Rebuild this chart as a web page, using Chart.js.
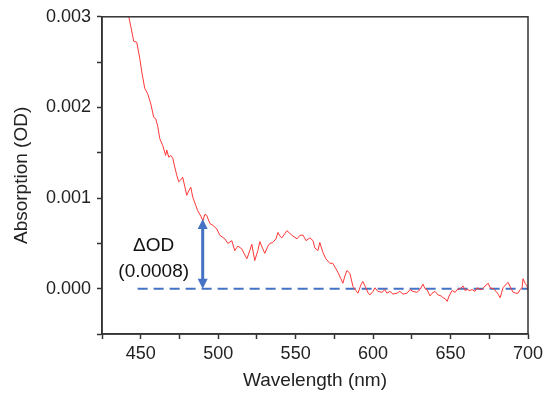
<!DOCTYPE html>
<html>
<head>
<meta charset="utf-8">
<script src="https://cdn.jsdelivr.net/npm/chart.js@4"></script>
<style>
html,body{margin:0;padding:0;background:#fff;}
#wrap{width:544px;height:397px;}
</style>
</head>
<body>
<div id="wrap"><canvas id="c" width="544" height="397"></canvas></div>
<script>
// ---- data ----
const wavelengths = [440,442.2,443.5,444.8,445.5,447.4,449.4,450.6,452.6,454.5,456.5,458.4,459.7,461.0,462.3,464.2,466.1,466.8,468.1,469.4,470.7,472.0,473.3,474.5,475.8,477.1,478.4,479.7,481.0,482.3,483.6,485.5,486.8,488.8,490.1,491.4,492.6,494.6,496.5,499.1,501.0,504.3,506.2,508.8,510.7,512.7,515.2,518.5,520.4,521.7,523.6,525.6,526.9,528.8,530.1,532.1,533.4,535.3,537.3,538.6,539.9,541.1,543.1,544.4,546.3,548.3,550.9,552.8,554.8,556.7,559.2,561.2,562.4,564.4,565.6,567.6,569.5,572.1,574.0,576.0,577.3,579.2,580.5,581.8,583.1,585.0,587.0,588.9,590.2,592.1,593.4,595.3,596.6,597.9,599.9,601.2,603.1,605.7,607.6,608.9,610.9,612.8,615.4,617.3,619.3,621.9,623.8,625.8,628.3,630.3,632.2,633.5,634.8,636.8,638.1,640.0,642.0,643.9,645.2,646.5,647.8,649.1,651.0,653.0,654.2,656.2,658.1,659.4,660.7,662.6,663.9,665.8,667.1,669.1,670.3,672.3,674.3,675.5,677.5,679.4,680.7,682.0,683.9,685.9,687.2,689.1,690.4,692.3,693.6,694.9,696.2,696.8,698.1,699.4,700];
const absorption = [0.00318,0.00301,0.00290,0.00279,0.00273,0.00272,0.00254,0.00240,0.00221,0.00215,0.00204,0.00189,0.001875,0.00179,0.001655,0.00158,0.00147,0.00153,0.00145,0.00147,0.00144,0.00134,0.00125,0.00118,0.00120,0.00123,0.00113,0.00103,0.00108,0.00112,0.00101,0.00092,0.00086,0.00080,0.00075,0.00082,0.00081,0.00072,0.00070,0.00066,0.00059,0.00055,0.00050,0.00053,0.00042,0.00047,0.00044,0.00033,0.00042,0.00049,0.00031,0.00042,0.00052,0.00044,0.00039,0.00047,0.00050,0.00051,0.00055,0.00062,0.00058,0.00056,0.00061,0.00064,0.00061,0.00058,0.00055,0.00059,0.00059,0.00053,0.00056,0.00053,0.00045,0.00042,0.00051,0.00040,0.00033,0.00028,0.00028,0.00022,0.00018,0.00011,0.00006,0.00014,0.00020,0.00017,0.000025,-0.00002,-0.00005,0.00004,0.00008,0.00001,-0.00004,-0.00007,-0.00003,0.00001,-0.00003,-0.00004,-0.00001,-0.00005,-0.00003,-0.00006,-0.00005,-0.00003,-0.00006,-0.00005,-0.00001,-0.00003,-0.00004,-0.00001,0.00005,0.00000,-0.00001,-0.00008,-0.00005,-0.00003,-0.00007,-0.00008,-0.00010,-0.00011,-0.00014,-0.00008,-0.00002,-0.00004,-0.00001,0.00000,0.00003,-0.00002,-0.00001,-0.00002,-0.00001,-0.00003,0.00001,-0.00001,-0.00001,0.00003,0.00006,0.00001,0.00000,-0.00003,-0.00006,-0.00010,0.00001,0.00005,0.00007,0.00000,-0.00004,-0.00005,-0.00005,-0.00001,0.00001,0.00011,0.00006,0.00003,-0.00002];
const baselineX = [448, 700];
const baselineY = [0, 0];
const arrowX = 490;
const arrowY = [0, 0.00077];
const annotationLines = ['\u0394OD', '(0.0008)'];
const xRange = [425, 700];
const yRange = [-0.0005, 0.003];

const points = wavelengths.map((w, i) => ({x: w, y: absorption[i]}));
const basePts = baselineX.map((w, i) => ({x: w, y: baselineY[i]}));

const FONT = "'Liberation Sans', Arial, sans-serif";
const BLUE = 'rgb(68,114,196)';

const framePlugin = {
  id: 'frame',
  afterDraw(chart) {
    const {ctx, chartArea: a, scales: {x, y}} = chart;
    ctx.save();
    ctx.strokeStyle = '#333';
    ctx.lineWidth = 1.5;
    ctx.strokeRect(a.left, a.top, a.right - a.left, a.bottom - a.top);
    // arrow
    const px = x.getPixelForValue(arrowX);
    const p0 = y.getPixelForValue(arrowY[0]);
    const p1 = y.getPixelForValue(arrowY[1]);
    const head = 10, hw = 5;
    ctx.strokeStyle = BLUE;
    ctx.fillStyle = BLUE;
    ctx.lineWidth = 3;
    ctx.beginPath();
    ctx.moveTo(px, p0 - head + 1);
    ctx.lineTo(px, p1 + head - 1);
    ctx.stroke();
    ctx.beginPath();
    ctx.moveTo(px, p1); ctx.lineTo(px - hw, p1 + head); ctx.lineTo(px + hw, p1 + head); ctx.closePath();
    ctx.fill();
    ctx.beginPath();
    ctx.moveTo(px, p0); ctx.lineTo(px - hw, p0 - head); ctx.lineTo(px + hw, p0 - head); ctx.closePath();
    ctx.fill();
    // text
    ctx.fillStyle = '#111';
    ctx.font = '19px ' + FONT;
    ctx.textAlign = 'center';
    ctx.textBaseline = 'middle';
    const mid = (p0 + p1) / 2;
    ctx.fillText(annotationLines[0], px - 49, mid - 8);
    ctx.fillText(annotationLines[1], px - 49, mid + 18);
    ctx.restore();
  }
};

new Chart(document.getElementById('c'), {
  type: 'scatter',
  data: {
    datasets: [
      {
        data: points,
        showLine: true,
        borderColor: 'rgb(255,55,55)',
        borderWidth: 1,
        pointRadius: 0,
        tension: 0
      },
      {
        data: basePts,
        showLine: true,
        borderColor: BLUE,
        borderWidth: 2,
        borderDash: [10, 6],
        pointRadius: 0
      }
    ]
  },
  options: {
    responsive: false,
    animation: false,
    events: [],
    layout: {padding: {top: 16, right: 16, left: 0, bottom: 0}},
    plugins: {legend: {display: false}, tooltip: {enabled: false}},
    scales: {
      x: {
        type: 'linear',
        min: xRange[0], max: xRange[1],
        afterFit(s) { s.height = 63; s.paddingRight = 0; s.paddingLeft = 0; },
        border: {display: true, color: '#333', width: 1.5},
        grid: {drawOnChartArea: false, tickLength: 5, color: '#333', tickWidth: 1.5},
        ticks: {
          stepSize: 25,
          autoSkip: false,
          maxRotation: 0,
          padding: 4,
          color: '#222',
          font: {family: FONT, size: 18},
          callback: v => (v % 50 === 0 ? String(v) : '')
        },
        title: {display: true, text: 'Wavelength (nm)', color: '#222',
                font: {family: FONT, size: 19}, padding: {top: 0, bottom: 5}}
      },
      y: {
        min: yRange[0], max: yRange[1],
        afterFit(s) { s.width = 102; },
        border: {display: true, color: '#333', width: 1.5},
        grid: {drawOnChartArea: false, tickLength: 5, color: '#333', tickWidth: 1.5},
        ticks: {
          stepSize: 0.0005,
          autoSkip: false,
          padding: 6,
          color: '#222',
          font: {family: FONT, size: 18},
          callback: v => {
            const k = v / 0.001;
            return Math.abs(k - Math.round(k)) < 1e-6 ? v.toFixed(3) : '';
          }
        },
        title: {display: true, text: 'Absorption (OD)', color: '#222',
                font: {family: FONT, size: 19}, padding: {top: 10, bottom: 0}}
      }
    }
  },
  plugins: [framePlugin]
});
</script>
</body>
</html>
